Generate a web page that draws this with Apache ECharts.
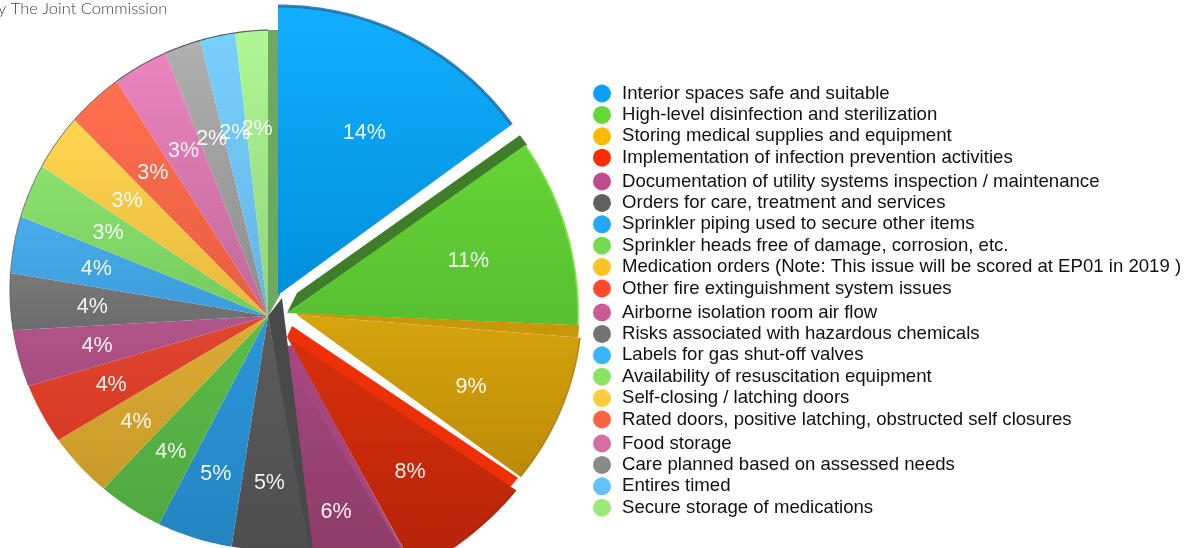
<!DOCTYPE html>
<html><head><meta charset="utf-8">
<style>html,body{margin:0;padding:0;background:#fff}#c{width:1186px;height:548px}</style>
<script src="https://cdn.jsdelivr.net/npm/echarts@6/dist/echarts.min.js"></script>
</head><body><div id="c"></div>
<script>
const categories = ["Interior spaces safe and suitable","High-level disinfection and sterilization","Storing medical supplies and equipment","Implementation of infection prevention activities","Documentation of utility systems inspection / maintenance","Orders for care, treatment and services","Sprinkler piping used to secure other items","Sprinkler heads free of damage, corrosion, etc.","Medication orders (Note: This issue will be scored at EP01 in 2019 )","Other fire extinguishment system issues","Airborne isolation room air flow","Risks associated with hazardous chemicals","Labels for gas shut-off valves","Availability of resuscitation equipment","Self-closing / latching doors","Rated doors, positive latching, obstructed self closures","Food storage","Care planned based on assessed needs","Entires timed","Secure storage of medications"];
const values = [14,11,9,8,6,5,5,4,4,4,4,4,4,3,3,3,3,2,2,2];
const legendColors = ["#0AA0FF","#62D934","#FFB900","#FF2E00","#C14A8A","#606060","#22A9FF","#74DB50","#FFC31F","#FF4B2B","#CC5A96","#737373","#3BB4FF","#89E463","#FFCC40","#FF6340","#D46FA6","#8A8A8A","#64C3FF","#9DEA7A"];
const faceTop = ["#12AEFF","#66D435","#D6A40C","#D8300A","#A24880","#5C5C5C","#2A96DC","#5CBD48","#DCAC34","#E04630","#B2558A","#787878","#4AACEC","#8CE06E","#FFD650","#FF7050","#EC84C0","#B0B0B0","#78D0FF","#B0F794"];
const faceBottom = ["#0090DC","#57BF30","#BD8A08","#B4230A","#8A3862","#4E4E4E","#2484C0","#50A840","#C89A28","#D83A24","#A84C80","#6C6C6C","#3C9CDC","#74CC5E","#E8B83C","#E85C40","#C06898","#8C8C8C","#64B4E4","#90D47A"];

// Tilted-pie projection (style only): where each wedge's tip sits and which outline it reaches.
const base = {tip:[268,316], c:[274,290], Rx:264, Ry:260};
const tips = {0:[278,295],1:[287,313],2:[297,315],3:[287,337],4:[280,348]};
const outlines = {0:{c:[278,295],Rx:289,Ry:289},1:{c:[287,313],Rx:291,Ry:291},2:{c:[312,305],Rx:270,Ry:270},3:{c:[275,290],Rx:313,Ry:313},4:{c:[275,290],Rx:320,Ry:320}};
// Perspective nudges (degrees) on each wedge's start ray; a wedge ends where the next starts unless noted.
const nudgeStart = [0,4.4,4.6,1.4,-2.2,-2.8,-1.8,-1.1,.4,1.8,1.7,.4,-1.3,-3.3,-2.5,-1.4,-.4,.3,.6,.6];
const nudgeEnd = [3.5,2.4,3.5,0,-1.8,-1.8,-1.1,.4,1.8,1.7,.4,-1.3,-3.3,-2.5,-1.4,-.4,.3,.6,.6,0];
// Extruded side faces.
const sides = {
  1:{tip:[297,293],from:-.1,to:2.5,color:"#3F7D2A",o:{c:[287,313],Rx:293,Ry:293}},
  2:{tip:[297,313],from:-2.1,to:.4,color:"#C9980A",o:{c:[312,305],Rx:268,Ry:268}},
  3:{tip:[292,326],from:.1,to:4,color:"#EE3008",o:{c:[275,290],Rx:307,Ry:307}},
  4:{tip:[292,345],from:2.4,to:4,color:"#A5467F",o:{c:[275,290],Rx:320,Ry:320}},
  5:{tip:[282,298],from:3,to:4,color:"#484A4A",o:{c:[275,290],Rx:300,Ry:300}},
  19:{tip:[280,295],last:true,from:0,to:2.2,color:"#6FA860",o:base}
};
const rims = {0:["#1B6FA8",3],1:["#7BE04A",2],2:["#A87C08",1.5],3:["#A81E08",2],10:["#666",1],11:["#555",1],12:["#666",1],13:["#666",1],14:["#555",1],15:["#555",1],16:["#555",1.2],17:["#444",1.2],18:["#444",1.2],19:["#444",1.2]};
const labelRadius = {0:184,1:189,2:188,3:182,4:172};
const labelAngle = {0:1,2:2,4:1};

const total = values.reduce((a,b)=>a+b,0);
const rad = d => d*Math.PI/180;
function rayHit(tip,deg,o){
  const k=o.Rx/o.Ry;
  const dx=Math.sin(rad(deg)), dy=-Math.cos(rad(deg))*k;
  const fx=tip[0]-o.c[0], fy=(tip[1]-o.c[1])*k;
  const A=dx*dx+dy*dy, B=fx*dx+fy*dy, C=fx*fx+fy*fy-o.Rx*o.Rx;
  const t=(-B+Math.sqrt(B*B-A*C))/A;
  return [tip[0]+t*dx,tip[1]-t*Math.cos(rad(deg)),t];
}
function arc(tip,a,b,o){
  const pts=[]; const n=Math.max(2,Math.ceil(Math.abs(b-a)));
  for(let k=0;k<=n;k++){ pts.push(rayHit(tip,a+(b-a)*k/n,o).slice(0,2)); }
  return pts;
}
function angles(i,value){
  const before=values.slice(0,i).reduce((a,b)=>a+b,0);
  return [before/total*360+nudgeStart[i],(before+value)/total*360+nudgeEnd[i]];
}
function sliceItem(i){
  return function(params,api){
    const v=api.value(0);
    const [a,b]=angles(i,v);
    const tip=tips[i]||base.tip, o=outlines[i]||base;
    const kids=[];
    const s=sides[i];
    if(s){
      if(s.last){
        kids.push({type:'polygon',shape:{points:[tip,...arc(tip,b+s.from,b+s.to,s.o),s.tip]},style:{fill:s.color}});
      }else{
        kids.push({type:'polygon',shape:{points:[s.tip,...arc(s.tip,a+s.from,a+s.to,s.o),tip]},style:{fill:s.color}});
      }
    }
    const ap=arc(tip,a,b,o);
    kids.push({type:'polygon',shape:{points:[tip,...ap]},style:{fill:new echarts.graphic.LinearGradient(0,0,0,1,[{offset:0,color:faceTop[i]},{offset:1,color:faceBottom[i]}])}});
    if(rims[i]) kids.push({type:'polyline',shape:{points:ap},style:{stroke:rims[i][0],lineWidth:rims[i][1],fill:null,opacity:.85}});
    return {type:'group',children:kids};
  };
}
function labelItem(params,api){
  const i=params.dataIndex, v=api.value(0);
  const [a,b]=angles(i,v);
  const tip=tips[i]||base.tip, o=outlines[i]||base;
  const m=(a+b)/2+(labelAngle[i]||0);
  const h=rayHit(tip,m,o);
  const r=labelRadius[i]||.43*h[2]+65;
  const x=tip[0]+r*Math.sin(rad(m)), y=tip[1]-r*Math.cos(rad(m));
  return {type:'text',x:x,y:y+1,style:{text:v+'%',fill:'#fff',font:'21.5px "Liberation Sans"',align:'center',verticalAlign:'middle',opacity:.93}};
}
const series = categories.map((name,i)=>({
  type:'custom',name:name,coordinateSystem:'none',silent:true,animation:false,
  z:i===0?3:2,data:[[values[i]]],renderItem:sliceItem(i),itemStyle:{color:legendColors[i]}
}));
series.push({type:'custom',name:'labels',coordinateSystem:'none',silent:true,animation:false,z:5,data:values.map(v=>[v]),renderItem:labelItem});

const legendRows=[[0,4,84],[4,10,172],[10,16,303],[16,20,434]];
const legend=legendRows.map(([s,e,top])=>({
  orient:'vertical',left:587+6,top:top,padding:0,itemWidth:30,itemHeight:18,itemGap:2.4,
  selectedMode:false,textStyle:{fontFamily:'"Liberation Sans"',fontSize:18.6,color:'#111'},
  data:categories.slice(s,e).map((n,k)=>({name:n,icon:'circle',itemStyle:{color:legendColors[s+k],borderWidth:0}}))
}));
const chart=echarts.init(document.getElementById('c'),null,{renderer:'canvas'});
chart.setOption({
  backgroundColor:'#fff',animation:false,legend:legend,series:series,tooltip:{show:false},
  graphic:[{type:'text',left:-2,top:0,silent:true,style:{text:'y The Joint Commission',fill:'#444',font:'300 16.5px Lato'}}]
});
</script></body></html>
